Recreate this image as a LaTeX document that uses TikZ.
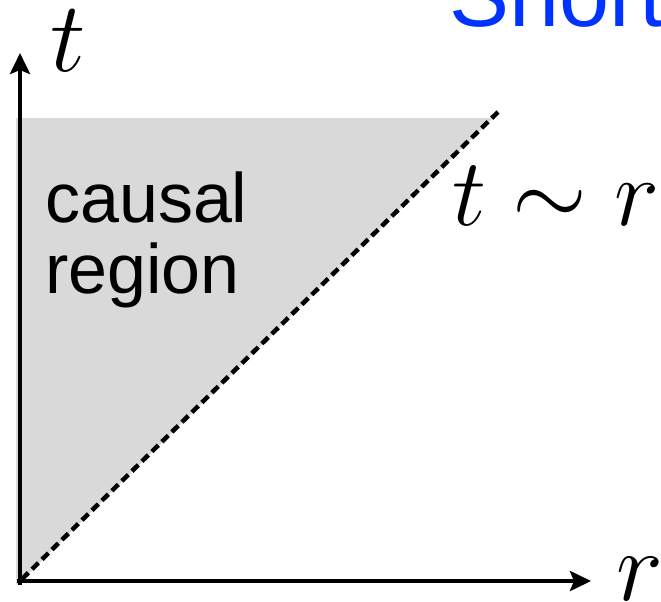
\RequirePackage{fix-cm}
\documentclass[tikz,border=0pt]{standalone}
\usepackage{fontspec}
\newfontfamily\arialfont{Liberation Sans}
\usetikzlibrary{arrows.meta}
\definecolor{regiongray}{HTML}{D9D9D9}
\definecolor{titleblue}{HTML}{0033FF}
\tikzset{
  axisline/.style={line width=4.5pt, -{Stealth[length=21pt,width=20pt,inset=4pt]}},
  lightcone/.style={line width=4.5pt, dash pattern=on 9pt off 5pt},
  txt/.style={inner sep=0pt, anchor=base west},
}
\begin{document}
\begin{tikzpicture}[x=1pt,y=-1pt]
\useasboundingbox (0,0) rectangle (661,602);
% shaded causal region
\fill[regiongray] (16,585) -- (16,118) -- (493,118) -- (20,582) -- cycle;
% coordinates
\coordinate (Obot) at (20,585);
\coordinate (Oleft) at (17,581);
\coordinate (Ttip) at (20,53);
\coordinate (Rtip) at (591,581);
\coordinate (Cstart) at (22,579);
\coordinate (Cend) at (498,112);
% axes
\draw[axisline] (Obot) -- (Ttip);
\draw[axisline] (Oleft) -- (Rtip);
% light cone line
\draw[lightcone] (Cstart) -- (Cend);
% labels
\node[txt, font=\fontsize{100}{100}\selectfont] (tlab) at (50,71) {$t$};
\node[txt, font=\fontsize{100}{100}\selectfont] (rlab) at (616,600) {$r$};
\node[txt, font=\fontsize{96}{96}\selectfont] (tr) at (452,225) {$t\sim r$};
\node[txt, align=left, font=\arialfont\fontsize{70}{71}\selectfont] (causal) at (45,293) {causal\\region};
\node[txt, text=titleblue, font=\arialfont\fontsize{90}{90}\selectfont] (title) at (449,27) {Short};
\end{tikzpicture}
\end{document}
